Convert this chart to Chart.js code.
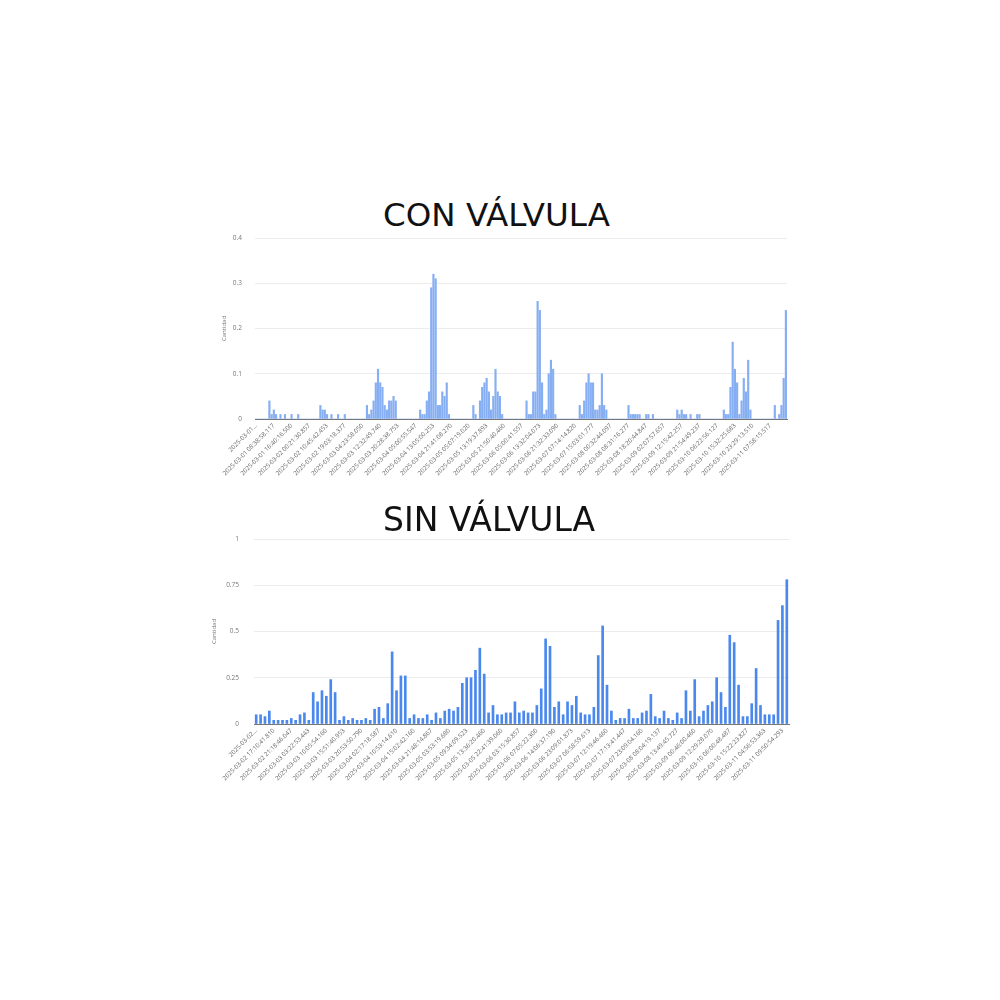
<!DOCTYPE html>
<html lang="es">
<head>
<meta charset="utf-8">
<title>CON VÁLVULA / SIN VÁLVULA</title>
<script src="https://cdn.jsdelivr.net/npm/chart.js@4.4.1/dist/chart.umd.min.js"></script>
<style>
    body { margin: 0; background: #fff; width: 1000px; height: 1000px; position: relative; overflow: hidden; }
    .titulo { position: absolute; left: 383px; font-family: "DejaVu Sans", sans-serif; font-size: 32.5px; line-height: 32px; color: #111; white-space: nowrap; }
    canvas { position: absolute; }
</style>
</head>
<body>
<div class="titulo" id="t1" style="top:199px">CON VÁLVULA</div>
<canvas id="chartCon" width="600" height="302" style="left:200px; top:213px"></canvas>
<div class="titulo" id="t2" style="top:504px; font-size:33px">SIN VÁLVULA</div>
<canvas id="chartSin" width="600" height="304" style="left:200px; top:514px"></canvas>
<script>
// CON VÁLVULA: one value per bar (240 bars), a tick label every 8 bars
const conValvulaValores = [
    0, 0, 0, 0, 0, 0, 0.04, 0.01, 0.02, 0.01,
    0, 0.01, 0, 0.01, 0, 0, 0.01, 0, 0, 0.01,
    0, 0, 0, 0, 0, 0, 0, 0, 0, 0.03,
    0.02, 0.02, 0.01, 0, 0.01, 0, 0, 0.01, 0, 0,
    0.01, 0, 0, 0, 0, 0, 0, 0, 0, 0,
    0.03, 0.01, 0.02, 0.04, 0.08, 0.11, 0.08, 0.07, 0.03, 0.02,
    0.04, 0.04, 0.05, 0.04, 0, 0, 0, 0, 0, 0,
    0, 0, 0, 0, 0.02, 0.01, 0.01, 0.04, 0.06, 0.29,
    0.32, 0.31, 0.03, 0.03, 0.06, 0.05, 0.08, 0.01, 0, 0,
    0, 0, 0, 0, 0, 0, 0, 0, 0.03, 0.01,
    0, 0.04, 0.07, 0.08, 0.09, 0.06, 0.02, 0.05, 0.11, 0.06,
    0.05, 0.01, 0, 0, 0, 0, 0, 0, 0, 0,
    0, 0, 0.04, 0.01, 0.01, 0.06, 0.06, 0.26, 0.24, 0.08,
    0.01, 0.02, 0.10, 0.13, 0.11, 0.01, 0, 0, 0, 0,
    0, 0, 0, 0, 0, 0, 0.03, 0.01, 0.04, 0.08,
    0.10, 0.08, 0.08, 0.02, 0.02, 0.03, 0.10, 0.03, 0.02, 0,
    0, 0, 0, 0, 0, 0, 0, 0, 0.03, 0.01,
    0.01, 0.01, 0.01, 0.01, 0, 0, 0.01, 0.01, 0, 0.01,
    0, 0, 0, 0, 0, 0, 0, 0, 0, 0,
    0.02, 0.01, 0.02, 0.01, 0.01, 0, 0.01, 0, 0, 0.01,
    0.01, 0, 0, 0, 0, 0, 0, 0, 0, 0,
    0, 0.02, 0.01, 0.01, 0.07, 0.17, 0.11, 0.08, 0.01, 0.04,
    0.09, 0.06, 0.13, 0.02, 0, 0, 0, 0, 0, 0,
    0, 0, 0, 0, 0.03, 0, 0.01, 0.03, 0.09, 0.24
];
const conValvulaEtiquetas = [
    '2025-03-01...',
    '2025-03-01 08:38:58.117', '2025-03-01 16:40:16.500', '2025-03-02 00:21:30.857',
    '2025-03-02 10:45:42.453', '2025-03-02 19:03:18.377', '2025-03-03 04:23:58.050',
    '2025-03-03 12:32:49.740', '2025-03-03 20:28:38.753', '2025-03-04 05:00:55.547',
    '2025-03-04 13:05:00.253', '2025-03-04 21:41:08.270', '2025-03-05 05:07:19.020',
    '2025-03-05 13:19:37.893', '2025-03-05 21:50:40.460', '2025-03-06 05:00:41.557',
    '2025-03-06 13:32:04.073', '2025-03-06 21:32:33.090', '2025-03-07 07:14:14.820',
    '2025-03-07 15:03:01.777', '2025-03-08 00:32:44.097', '2025-03-08 08:31:16.277',
    '2025-03-08 18:20:44.847', '2025-03-09 02:07:57.657', '2025-03-09 12:15:42.257',
    '2025-03-09 21:54:49.237', '2025-03-10 06:22:56.127', '2025-03-10 15:32:25.683',
    '2025-03-10 23:29:13.510', '2025-03-11 07:58:15.517'
];
const conValvulaPaso = 8;
const conValvulaTicksY = [0, 0.1, 0.2, 0.3, 0.4];

// SIN VÁLVULA: 122 bars, a tick label every 4 bars
const sinValvulaValores = [
    0.05, 0.05, 0.04, 0.07, 0.02, 0.02, 0.02, 0.02, 0.03, 0.02,
    0.05, 0.06, 0.02, 0.17, 0.12, 0.18, 0.15, 0.24, 0.17, 0.02,
    0.04, 0.02, 0.03, 0.02, 0.02, 0.03, 0.02, 0.08, 0.09, 0.03,
    0.11, 0.39, 0.18, 0.26, 0.26, 0.03, 0.05, 0.03, 0.03, 0.05,
    0.02, 0.06, 0.03, 0.07, 0.08, 0.07, 0.09, 0.22, 0.25, 0.25,
    0.29, 0.41, 0.27, 0.06, 0.10, 0.05, 0.05, 0.06,
    0.06, 0.12, 0.06, 0.07, 0.06, 0.06, 0.10, 0.19, 0.46, 0.42,
    0.09, 0.12, 0.05, 0.12, 0.10, 0.15, 0.06, 0.05, 0.05, 0.09,
    0.37, 0.53, 0.21, 0.07, 0.02, 0.03, 0.03, 0.08, 0.03, 0.03,
    0.06, 0.07, 0.16, 0.04, 0.03, 0.07, 0.03, 0.02, 0.06, 0.03,
    0.18, 0.07, 0.24, 0.04, 0.07, 0.10, 0.12, 0.25, 0.17, 0.09,
    0.48, 0.44, 0.21, 0.04, 0.04, 0.11, 0.30, 0.10, 0.05, 0.05,
    0.05, 0.56, 0.64, 0.78
];
const sinValvulaEtiquetas = [
    '2025-03-02...',
    '2025-03-02 17:10:41.810', '2025-03-02 21:18:46.047', '2025-03-03 03:22:53.443',
    '2025-03-03 10:05:54.160', '2025-03-03 15:51:40.953', '2025-03-03 20:53:50.790',
    '2025-03-04 02:17:18.587', '2025-03-04 10:53:14.610', '2025-03-04 15:02:42.160',
    '2025-03-04 21:48:14.867', '2025-03-05 03:53:19.680', '2025-03-05 09:34:09.523',
    '2025-03-05 13:36:20.460', '2025-03-05 22:41:39.060', '2025-03-06 03:15:30.857',
    '2025-03-06 07:05:22.300', '2025-03-06 14:06:37.190', '2025-03-06 23:09:01.873',
    '2025-03-07 06:58:59.613', '2025-03-07 12:19:46.460', '2025-03-07 17:13:41.447',
    '2025-03-07 23:09:04.160', '2025-03-08 08:04:19.137', '2025-03-08 13:49:45.727',
    '2025-03-09 00:46:00.460', '2025-03-09 12:29:28.070', '2025-03-10 06:00:48.487',
    '2025-03-10 15:22:23.827', '2025-03-11 04:56:53.363', '2025-03-11 09:50:54.293'
];
const sinValvulaPaso = 4;
const sinValvulaTicksY = [0, 0.25, 0.5, 0.75, 1];

function makeChart(canvasId, valores, etiquetas, paso, ticksY, cfg) {
    const ctx = document.getElementById(canvasId).getContext('2d');
    const maxY = ticksY[ticksY.length - 1];
    return new Chart(ctx, {
        type: 'bar',
        data: {
            labels: valores.map((_, i) => i),
            datasets: [{
                data: valores,
                backgroundColor: cfg.color,
                borderWidth: 0,
                barThickness: cfg.barra
            }]
        },
        options: {
            responsive: false,
            animation: false,
            // top padding is bigger than the y labels' own padding so it wins
            layout: { padding: { left: 0, right: cfg.padRight, top: 25, bottom: 0 } },
            plugins: { legend: { display: false }, tooltip: { enabled: false } },
            scales: {
                x: {
                    grid: { display: false, drawTicks: false },
                    border: { display: true, color: '#777', width: 1 },
                    ticks: {
                        autoSkip: false,
                        minRotation: 45,
                        maxRotation: 45,
                        padding: 3,
                        color: '#666',
                        font: { family: 'Open Sans', size: 6.2 },
                        callback: (v, i) => (i % paso === 0 && etiquetas[i / paso]) ? etiquetas[i / paso] : ''
                    },
                    afterFit: (scale) => { scale.height = cfg.altoX; }
                },
                y: {
                    min: 0,
                    max: maxY,
                    afterBuildTicks: (scale) => { scale.ticks = ticksY.map(v => ({ value: v })); },
                    grid: {
                        drawTicks: false,
                        color: (c) => c.tick && c.tick.value === 0 ? '#777' : '#ececec'
                    },
                    border: { display: false },
                    ticks: {
                        padding: cfg.padTicks,
                        color: '#777',
                        font: { family: 'Open Sans', size: 6.5 },
                        callback: (v) => String(+Number(v).toFixed(2))
                    },
                    title: {
                        display: true,
                        text: 'Cantidad',
                        color: '#777',
                        font: { family: 'Open Sans', size: 6 },
                        padding: { top: cfg.padTitulo, bottom: 0 }
                    },
                    afterFit: (scale) => { scale.width = cfg.anchoY; }
                }
            }
        }
    });
}

makeChart('chartCon', conValvulaValores, conValvulaEtiquetas, conValvulaPaso, conValvulaTicksY, {
    color: '#86aef2', barra: 1.5, padRight: 13, altoX: 96, anchoY: 55, padTicks: 13, padTitulo: 21
});
makeChart('chartSin', sinValvulaValores, sinValvulaEtiquetas, sinValvulaPaso, sinValvulaTicksY, {
    color: '#4a88ee', barra: 2, padRight: 11, altoX: 94, anchoY: 54, padTicks: 15, padTitulo: 11
});
</script>
</body>
</html>
